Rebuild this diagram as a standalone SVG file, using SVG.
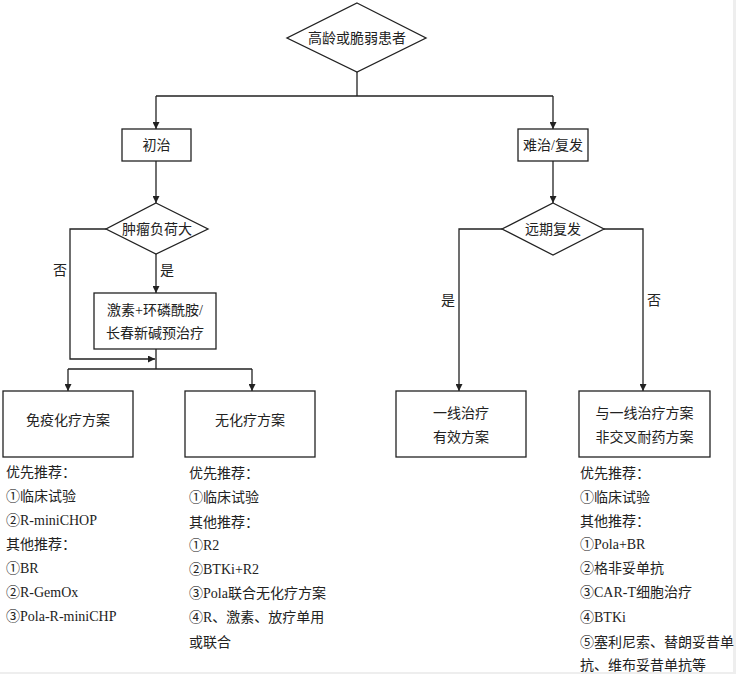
<svg xmlns="http://www.w3.org/2000/svg" width="736" height="674" viewBox="0 0 736 674">
<defs>
<style>
.n{fill:#fff;stroke:#222;stroke-width:1.3}
.c{fill:none;stroke:#222;stroke-width:1.3}
text{font-family:"Liberation Serif","Noto Sans CJK SC",serif;font-size:14px;fill:#222}
.m{text-anchor:middle}
</style>
<marker id="ar" viewBox="0 0 10 10" refX="10" refY="5" markerWidth="7" markerHeight="7" markerUnits="userSpaceOnUse" orient="auto"><path d="M0,0 L10,5 L0,10 z" fill="#222"/></marker>
</defs>
<rect width="736" height="674" fill="#fff"/>
<rect x="733" y="0" width="3" height="674" fill="#eeeeee"/>
<rect x="0" y="672" width="736" height="2" fill="#eeeeee"/>
<g id="connectors">
<path class="c" d="M357,72 V96 M156,96 H553"/>
<path class="c" d="M156,96 V129" marker-end="url(#ar)"/>
<path class="c" d="M553,96 V129" marker-end="url(#ar)"/>
<path class="c" d="M156,161 V203" marker-end="url(#ar)"/>
<path class="c" d="M156,254 V293" marker-end="url(#ar)"/>
<path class="c" d="M106,229 H70 V359 H155" marker-end="url(#ar)"/>
<path class="c" d="M156,349 V369 M68,369 H252"/>
<path class="c" d="M68,369 V391" marker-end="url(#ar)"/>
<path class="c" d="M252,369 V391" marker-end="url(#ar)"/>
<path class="c" d="M553,161 V203" marker-end="url(#ar)"/>
<path class="c" d="M502,229 H459 V391" marker-end="url(#ar)"/>
<path class="c" d="M604,229 H643 V391" marker-end="url(#ar)"/>
<text x="60" y="275" class="m">否</text>
<text x="167" y="275" class="m">是</text>
<text x="448" y="305" class="m">是</text>
<text x="654" y="305" class="m">否</text>
</g>
<g id="n_start">
<polygon class="n" points="357,3 426,38 357,72 287,38"/>
<text x="357" y="43" class="m">高龄或脆弱患者</text>
</g>
<g id="n_initial">
<rect class="n" x="122" y="129" width="69" height="32"/>
<text x="156.5" y="150" class="m">初治</text>
</g>
<g id="n_relapse">
<rect class="n" x="518" y="129" width="70" height="32"/>
<text x="553" y="150" class="m">难治/复发</text>
</g>
<g id="n_burden">
<polygon class="n" points="156,203 208,229 156,254 106,229"/>
<text x="157" y="234" class="m">肿瘤负荷大</text>
</g>
<g id="n_late">
<polygon class="n" points="553,203 604,229 553,255 502,229"/>
<text x="553" y="234" class="m">远期复发</text>
</g>
<g id="n_pre">
<rect class="n" x="94" y="293" width="122" height="56"/>
<text x="155" y="315" class="m">激素+环磷酰胺/</text>
<text x="155" y="338" class="m">长春新碱预治疗</text>
</g>
<g id="n_chemo">
<rect class="n" x="3" y="391" width="130" height="66"/>
<text x="68" y="425" class="m">免疫化疗方案</text>
</g>
<g id="n_nochemo">
<rect class="n" x="185" y="391" width="130" height="66"/>
<text x="250" y="425" class="m">无化疗方案</text>
</g>
<g id="n_first">
<rect class="n" x="396" y="391" width="130" height="66"/>
<text x="461" y="418" class="m">一线治疗</text>
<text x="461" y="442" class="m">有效方案</text>
</g>
<g id="n_noncross">
<rect class="n" x="579" y="391" width="131" height="66"/>
<text x="644.5" y="418" class="m">与一线治疗方案</text>
<text x="644.5" y="442" class="m">非交叉耐药方案</text>
</g>
<g id="list_chemo">
<text x="6" y="477">优先推荐：</text>
<text x="6" y="501">①临床试验</text>
<text x="6" y="525">②R-miniCHOP</text>
<text x="6" y="549">其他推荐：</text>
<text x="6" y="573">①BR</text>
<text x="6" y="597">②R-GemOx</text>
<text x="6" y="621">③Pola-R-miniCHP</text>
</g>
<g id="list_nochemo">
<text x="189" y="478">优先推荐：</text>
<text x="189" y="502">①临床试验</text>
<text x="189" y="527">其他推荐：</text>
<text x="189" y="550">①R2</text>
<text x="189" y="574">②BTKi+R2</text>
<text x="189" y="598">③Pola联合无化疗方案</text>
<text x="189" y="622">④R、激素、放疗单用</text>
<text x="189" y="647">或联合</text>
</g>
<g id="list_noncross">
<text x="580" y="478">优先推荐：</text>
<text x="580" y="502">①临床试验</text>
<text x="580" y="526">其他推荐：</text>
<text x="580" y="549">①Pola+BR</text>
<text x="580" y="573">②格非妥单抗</text>
<text x="580" y="597">③CAR-T细胞治疗</text>
<text x="580" y="622">④BTKi</text>
<text x="580" y="647">⑤塞利尼索、替朗妥昔单</text>
<text x="580" y="670">抗、维布妥昔单抗等</text>
</g>
</svg>
